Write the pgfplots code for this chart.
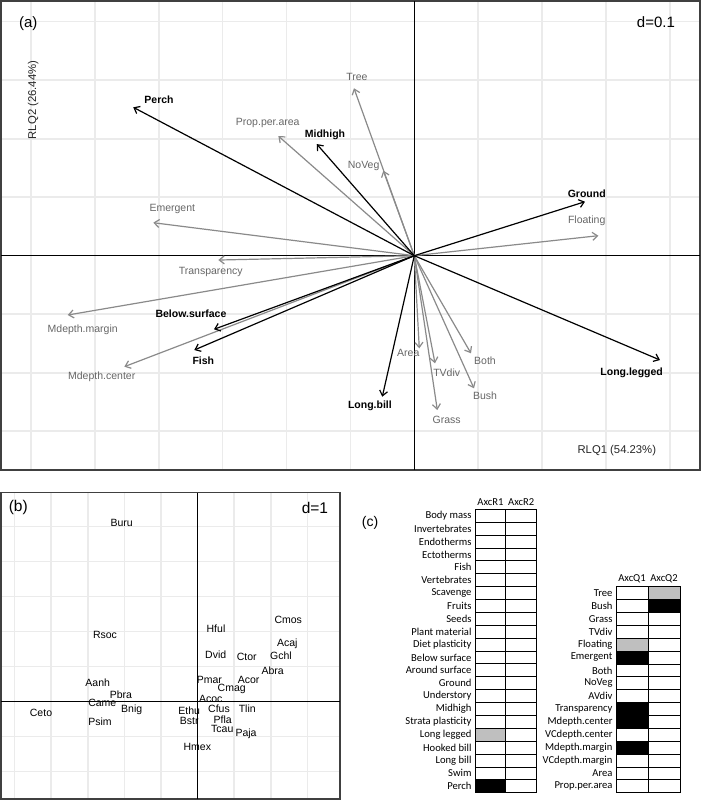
\documentclass[border=0pt]{standalone}
\usepackage{fontspec}
\setmainfont{Liberation Sans}
\newfontfamily\calibri{Carlito}
\usepackage{pgfplots}
\pgfplotsset{compat=1.18}
\usetikzlibrary{arrows.meta}
\definecolor{envgray}{HTML}{8A8A8A}
\definecolor{envtext}{HTML}{666666}
\definecolor{gridgray}{HTML}{EBEBEB}
\definecolor{framegray}{HTML}{404040}
\definecolor{cellgray}{HTML}{BFBFBF}
\newcommand{\fs}[1]{\fontsize{#1bp}{#1bp}\selectfont}
\tikzset{barb/.style={-{Straight Barb[length=5bp,width=8bp]}}}
\pgfplotsset{rlqbiplotstyle/.style={anchor=south west, scale only axis,
  xticklabel=\empty, yticklabel=\empty, major tick length=0,
  grid=major, grid style={gridgray, line width=1.6bp},
  axis line style={framegray, line width=1.3bp},
  clip=false}}
\pgfplotsset{rlqcellstyle/.style={anchor=south west, scale only axis,
  xtick={0.5,1.5}, xticklabel pos=upper,
  major tick length=0, minor tick length=0, minor xtick={1},
  grid=minor, minor grid style={black, line width=0.8bp},
  axis line style={black, line width=0.9bp}, axis on top,
  ticklabel style={font=\calibri\fs{10.6}}}}

\pgfplotstableread{
x y label
-0.0897 0.3055 Tree
-0.0793 0.1530 NoVeg
-0.2294 0.2263 Prop.per.area
-0.3787 0.0793 Emergent
0.2698 0.0598 Floating
-0.3186 -0.0274 Transparency
-0.5189 -0.1270 Mdepth.margin
-0.4892 -0.2068 Mdepth.center
-0.0094 -0.1668 Area
0.0507 -0.2000 TVdiv
0.0507 -0.2809 Grass
0.1106 -0.1800 Both
0.1106 -0.2393 Bush
}\envlabels
\pgfplotstableread{
x y label
-0.3995 0.2662 Perch
-0.1397 0.2063 Midhigh
0.2698 0.1067 Ground
-0.3495 -0.0997 Below.surface
-0.3302 -0.1800 Fish
-0.0695 -0.2559 Long.bill
0.3402 -0.2000 Long.legged
}\traitlabels
\pgfplotstableread{
x y label
-2.077 5.114 Buru
-2.533 1.906 Rsoc
-2.732 0.554 Aanh
-2.096 0.191 Pbra
-2.607 -0.029 Came
-1.803 -0.237 Bnig
-4.281 -0.331 Ceto
-2.669 -0.560 Psim
-0.230 -0.266 Ethu
-0.230 -0.543 Bstr
-0.011 -1.303 Hmex
0.500 2.077 Hful
2.475 2.334 Cmos
2.448 1.649 Acaj
2.276 1.314 Gchl
0.492 1.334 Dvid
1.339 1.286 Ctor
2.049 0.897 Abra
0.317 0.620 Pmar
1.393 0.620 Acor
0.929 0.363 Cmag
0.355 0.077 Acoc
0.582 -0.209 Cfus
1.355 -0.209 Tlin
0.683 -0.503 Pfla
0.672 -0.789 Tcau
1.320 -0.923 Paja
}\species

\begin{document}
\begin{tikzpicture}
\useasboundingbox (0,0) rectangle (702bp,800bp);
% ---------------- (a)
\begin{axis}[rlqbiplotstyle, at={(1bp,330bp)}, width=699bp, height=469bp,
  xmin=-0.6468, xmax=0.4471, ymin=-0.3663, ymax=0.4354,
  xtick={-0.6,-0.5,-0.4,-0.3,-0.2,-0.1,0.1,0.2,0.3,0.4},
  ytick={-0.3,-0.2,-0.1,0.1,0.2,0.3,0.4}]
\addplot[black, line width=0.8bp] coordinates {(-0.6468,0) (0.4471,0)};
\addplot[black, line width=0.8bp] coordinates {(0,-0.3663) (0,0.4354)};
\addplot[envgray, line width=1.2bp, barb] coordinates {(0,0) (-0.0944,0.2862)};
\addplot[envgray, line width=1.2bp, barb] coordinates {(0,0) (-0.0485,0.1453)};
\addplot[envgray, line width=1.2bp, barb] coordinates {(0,0) (-0.2128,0.2046)};
\addplot[envgray, line width=1.2bp, barb] coordinates {(0,0) (-0.4085,0.0564)};
\addplot[envgray, line width=1.2bp, barb] coordinates {(0,0) (0.2880,0.0342)};
\addplot[envgray, line width=1.2bp, barb] coordinates {(0,0) (-0.3067,-0.0074)};
\addplot[envgray, line width=1.2bp, barb] coordinates {(0,0) (-0.5424,-0.1014)};
\addplot[envgray, line width=1.2bp, barb] coordinates {(0,0) (-0.4538,-0.1897)};
\addplot[envgray, line width=1.2bp, barb] coordinates {(0,0) (0.0078,-0.1583)};
\addplot[envgray, line width=1.2bp, barb] coordinates {(0,0) (0.0324,-0.1839)};
\addplot[envgray, line width=1.2bp, barb] coordinates {(0,0) (0.0360,-0.2638)};
\addplot[envgray, line width=1.2bp, barb] coordinates {(0,0) (0.0887,-0.1668)};
\addplot[envgray, line width=1.2bp, barb] coordinates {(0,0) (0.0934,-0.2267)};
\addplot[black, line width=1.2bp, barb] coordinates {(0,0) (-0.4398,0.2537)};
\addplot[black, line width=1.2bp, barb] coordinates {(0,0) (-0.1527,0.1909)};
\addplot[black, line width=1.2bp, barb] coordinates {(0,0) (0.2671,0.0923)};
\addplot[black, line width=1.2bp, barb] coordinates {(0,0) (-0.3135,-0.1258)};
\addplot[black, line width=1.2bp, barb] coordinates {(0,0) (-0.3443,-0.1612)};
\addplot[black, line width=1.2bp, barb] coordinates {(0,0) (-0.0501,-0.2410)};
\addplot[black, line width=1.2bp, barb] coordinates {(0,0) (0.3845,-0.1783)};
\addplot[draw=none, mark=none, nodes near coords, nodes near coords align=center,
  point meta=explicit symbolic,
  every node near coord/.append style={font=\fs{10.5}, text=envtext, inner sep=0pt}]
  table[x=x, y=y, meta=label] {\envlabels};
\addplot[draw=none, mark=none, nodes near coords, nodes near coords align=center,
  point meta=explicit symbolic,
  every node near coord/.append style={font=\bfseries\fs{10.5}, text=black, inner sep=0pt}]
  table[x=x, y=y, meta=label] {\traitlabels};
\node[font=\fs{15}] at (rel axis cs:0.039,0.952) {(a)};
\node[font=\fs{15}] at (rel axis cs:0.937,0.954) {d=0.1};
\node[font=\fs{11.3}, text=black!85] at (rel axis cs:0.881,0.041) {RLQ1 (54.23\%)};
\node[font=\fs{11.3}, text=black!85, rotate=90] at (rel axis cs:0.046,0.789) {RLQ2 (26.44\%)};
\end{axis}
% ---------------- (b)
\begin{axis}[rlqbiplotstyle, at={(1bp,1bp)}, width=339bp, height=306.3bp,
  xmin=-5.374, xmax=3.888, ymin=-2.78, ymax=5.971,
  xtick={-5,-4,-3,-2,-1,1,2,3}, ytick={-2,-1,1,2,3,4,5}]
\addplot[black, line width=0.8bp] coordinates {(-5.374,0) (3.888,0)};
\addplot[black, line width=0.8bp] coordinates {(0,-2.78) (0,5.971)};
\addplot[draw=none, mark=none, nodes near coords, nodes near coords align=center,
  point meta=explicit symbolic,
  every node near coord/.append style={font=\fs{10.5}, text=black, inner sep=0pt}]
  table[x=x, y=y, meta=label] {\species};
\node[font=\fs{15.5}] at (rel axis cs:0.051,0.951) {(b)};
\node[font=\fs{15.5}] at (rel axis cs:0.926,0.951) {d=1};
\end{axis}
% ---------------- (c)
\node[font=\fs{14}] at (370bp,276.7bp) {(c)};
\begin{axis}[rlqcellstyle, at={(475bp,7.3bp)}, width=61.7bp, height=283.4bp,
  xmin=0, xmax=2, ymin=0, ymax=22, xticklabels={AxcR1,AxcR2},
  ytick={0.5,1.5,...,21.5}, minor ytick={1,2,...,21},
  yticklabels={Perch,Swim,Long bill,Hooked bill,Long legged,Strata plasticity,Midhigh,Understory,Ground,Around surface,Below surface,Diet plasticity,Plant material,Seeds,Fruits,Scavenge,Vertebrates,Fish,Ectotherms,Endotherms,Invertebrates,Body mass}]
\addplot[fill=black, draw=none] coordinates {(0,0) (1,0) (1,1) (0,1) (0,0)};
\addplot[fill=cellgray, draw=none] coordinates {(0,4) (1,4) (1,5) (0,5) (0,4)};
\end{axis}
\begin{axis}[rlqcellstyle, at={(616bp,7.3bp)}, width=64bp, height=206bp,
  xmin=0, xmax=2, ymin=0, ymax=16, xticklabels={AxcQ1,AxcQ2},
  ytick={0.5,1.5,...,15.5}, minor ytick={1,2,...,15},
  yticklabels={Prop.per.area,Area,VCdepth.margin,Mdepth.margin,VCdepth.center,Mdepth.center,Transparency,AVdiv,NoVeg,Both,Emergent,Floating,TVdiv,Grass,Bush,Tree}]
\addplot[fill=cellgray, draw=none] coordinates {(1,15) (2,15) (2,16) (1,16) (1,15)};
\addplot[fill=black, draw=none] coordinates {(1,14) (2,14) (2,15) (1,15) (1,14)};
\addplot[fill=cellgray, draw=none] coordinates {(0,11) (1,11) (1,12) (0,12) (0,11)};
\addplot[fill=black, draw=none] coordinates {(0,10) (1,10) (1,11) (0,11) (0,10)};
\addplot[fill=black, draw=none] coordinates {(0,6) (1,6) (1,7) (0,7) (0,6)};
\addplot[fill=black, draw=none] coordinates {(0,5) (1,5) (1,6) (0,6) (0,5)};
\addplot[fill=black, draw=none] coordinates {(0,3) (1,3) (1,4) (0,4) (0,3)};
\end{axis}
\end{tikzpicture}
\end{document}
